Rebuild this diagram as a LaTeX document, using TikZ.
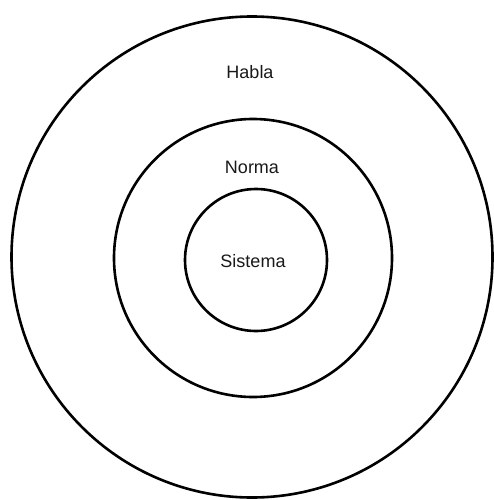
\documentclass[tikz,border=0pt]{standalone}
\usepackage{fontspec}
\setmainfont{Liberation Sans}
\begin{document}
\begin{tikzpicture}[x=1pt,y=-1pt,
  ring/.style={draw=black,line width=2.6pt,circle,inner sep=0pt},
  lbl/.style={font=\fontsize{18}{21}\selectfont,text=black!90}]
\useasboundingbox (0,0) rectangle (493,500);
\node[ring,minimum size=481pt] (habla) at (252,257) {};
\node[ring,minimum size=278pt] (norma) at (253,258) {};
\node[ring,minimum size=142pt] (sistema) at (256,260) {};
\node[lbl] (tsistema) at (253,261) {Sistema};
\node[lbl] (tnorma) at (252,167) {Norma};
\node[lbl] (thabla) at (250,72) {Habla};
\end{tikzpicture}
\end{document}
